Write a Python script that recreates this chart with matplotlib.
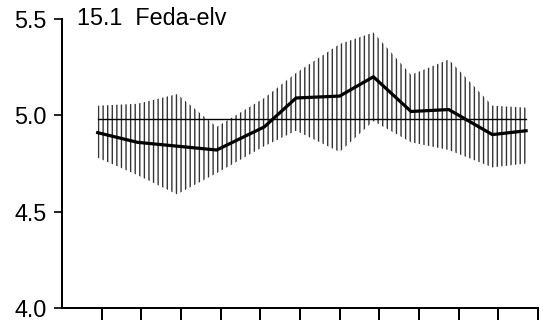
import matplotlib
matplotlib.use("Agg")
import matplotlib.pyplot as plt

plt.rcParams["font.family"] = ["Liberation Sans", "DejaVu Sans"]
plt.rcParams["hatch.linewidth"] = 0.9

# month position (1..12 ticks)
month_pos = [0.9, 1.9, 2.9, 3.9, 5.1, 5.9, 7.0, 7.85, 8.8, 9.75, 10.85, 11.7]
mean_value = [4.91, 4.86, 4.84, 4.82, 4.94, 5.09, 5.10, 5.20, 5.02, 5.03, 4.90, 4.92]
band_upper = [5.05, 5.06, 5.11, 4.94, 5.09, 5.22, 5.37, 5.43, 5.21, 5.29, 5.05, 5.04]
band_lower = [4.78, 4.69, 4.59, 4.70, 4.84, 4.92, 4.81, 4.97, 4.86, 4.82, 4.73, 4.75]
overall_mean = 4.98

tick_months = list(range(1, 13))
y_ticks = [4.0, 4.5, 5.0, 5.5]
title = "15.1  Feda-elv"

DPI = 110
fig = plt.figure(figsize=(550 / DPI, 325 / DPI), dpi=DPI)
ax = fig.add_axes([62 / 550, 1 - 308 / 325, 476 / 550, 289 / 325])

ax.fill_between(
    month_pos, band_lower, band_upper,
    facecolor="none", edgecolor="#333333",
    hatch="||||", linewidth=0
)

ax.plot(
    [month_pos[0], month_pos[-1]],
    [overall_mean, overall_mean],
    color="black", linewidth=0.9
)

ax.plot(month_pos, mean_value, color="black", linewidth=2.1, solid_joinstyle="miter")

ax.set_xlim(0, 12)
ax.set_ylim(4.0, 5.5)

ax.set_xticks(tick_months)
ax.set_xticklabels([])
ax.set_yticks(y_ticks)
ax.set_yticklabels([f"{v:.1f}" for v in y_ticks], fontsize=15.3)

ax.tick_params(axis="x", direction="out", length=8, width=1.3, color="black")
ax.tick_params(axis="y", direction="out", length=5, width=1.1, color="black", pad=5)

for side in ["top", "right"]:
    ax.spines[side].set_visible(False)
for side in ["left", "bottom"]:
    ax.spines[side].set_linewidth(1.3)

fig.text(77 / 550, 1 - 25 / 325, title, fontsize=15.3, ha="left", va="baseline")

fig.savefig("out.png", dpi=DPI)
